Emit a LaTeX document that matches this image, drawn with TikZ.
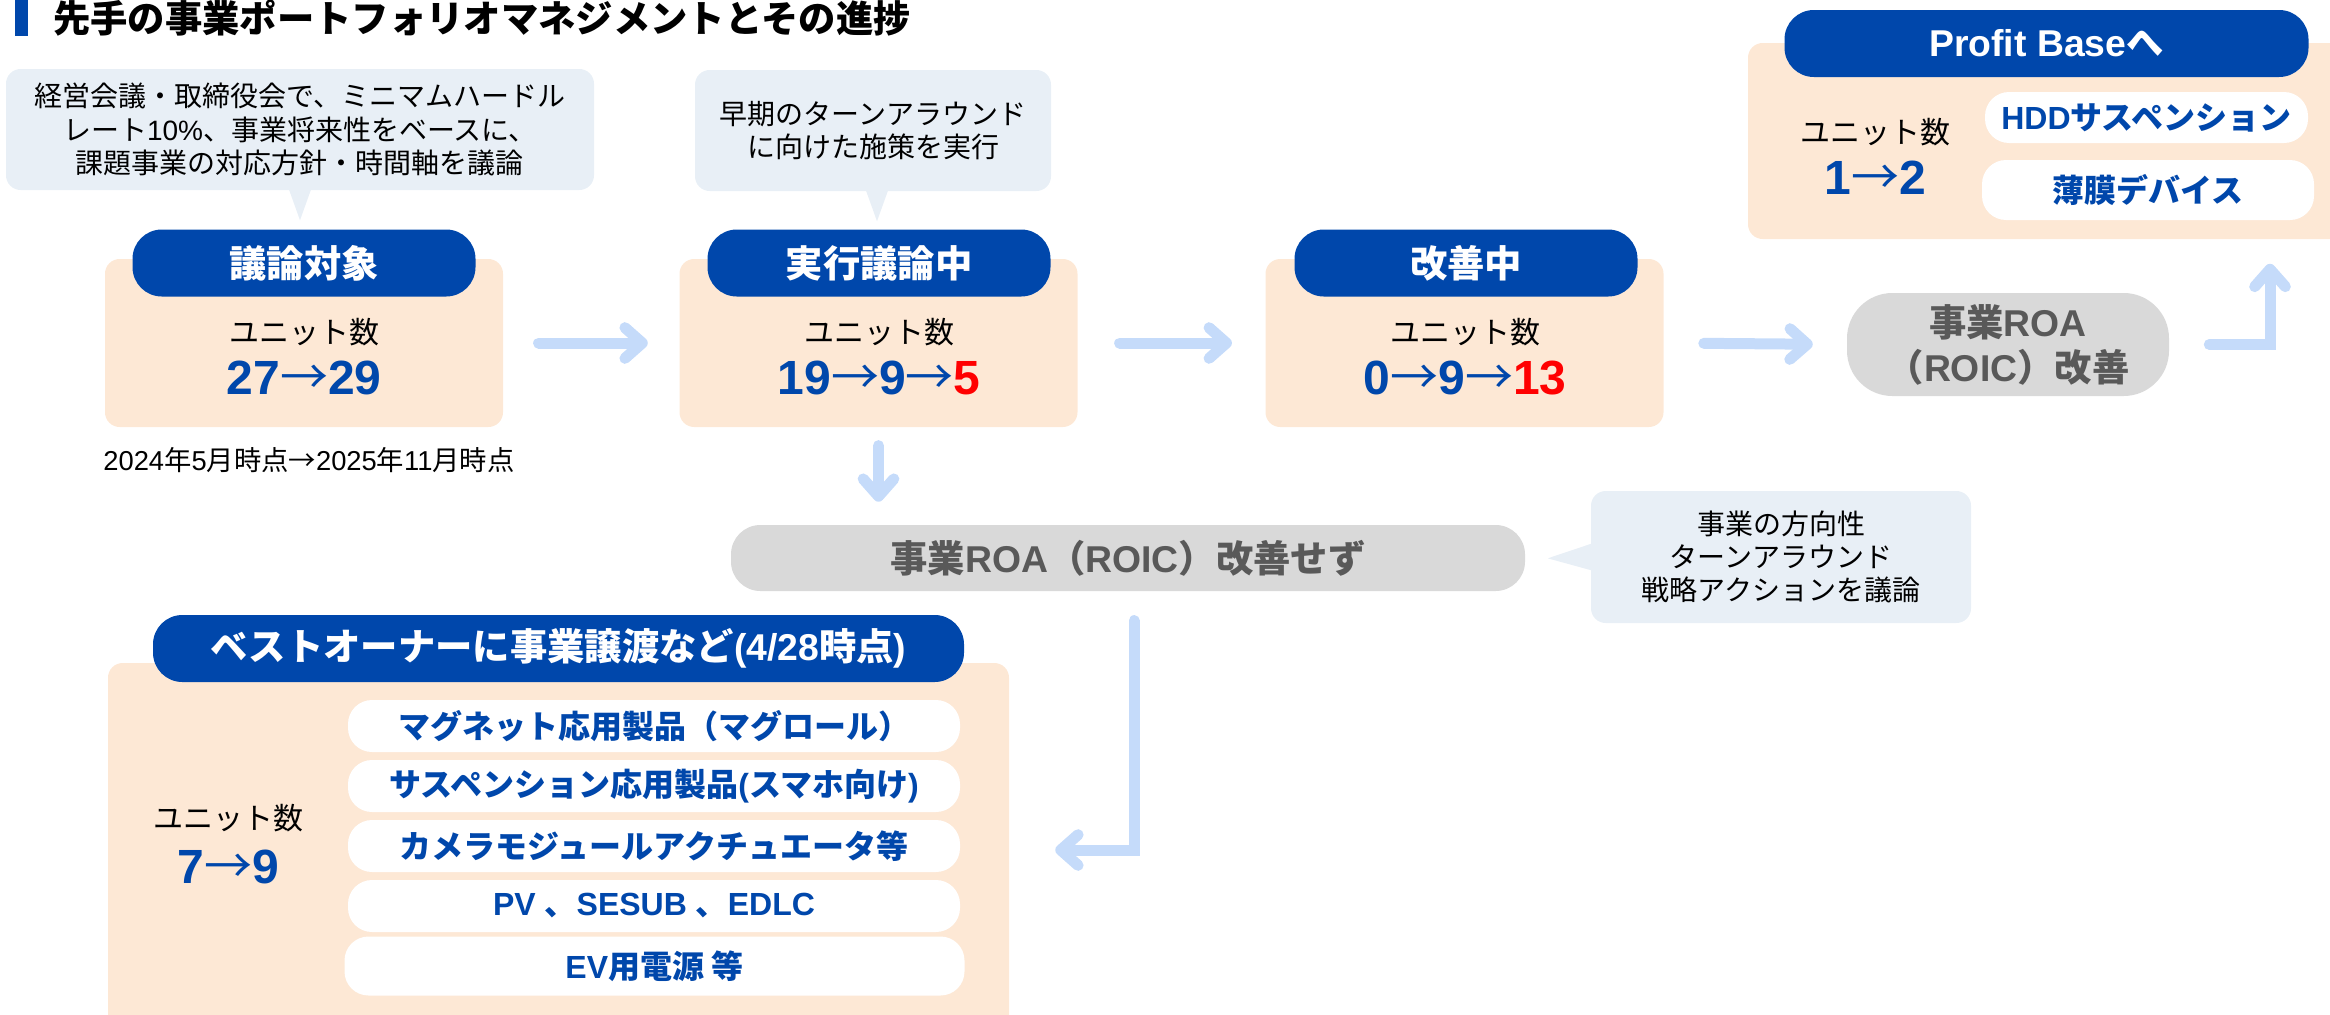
\documentclass[tikz,border=0pt]{standalone}
\usepackage{fontspec}
\setmainfont{Noto Sans CJK JP}
\newfontfamily\lat{Liberation Sans}
\newfontfamily\cjkplain{Noto Sans CJK JP}
\usetikzlibrary{arrows.meta}
\definecolor{hdblue}{RGB}{0,71,171}
\definecolor{numblue}{RGB}{0,71,171}
\definecolor{peach}{RGB}{253,232,213}
\definecolor{bubblebg}{RGB}{232,239,246}
\definecolor{pillgray}{RGB}{217,217,217}
\definecolor{graytext}{RGB}{89,89,89}
\definecolor{flowblue}{RGB}{197,219,250}
\newcommand\fs[1]{\fontsize{#1}{#1}\selectfont}
\newcommand\arr{{\cjkplain\mdseries →}}
\tikzset{
  unitbox/.style={fill=peach, rounded corners=11pt, inner sep=0pt},
  headpill/.style={fill=hdblue, rounded corners=22pt, minimum height=50.25pt, text=white, font=\bfseries\fs{28}, inner sep=0pt},
  callout/.style={fill=bubblebg, rounded corners=11pt, align=center, font=\fontsize{21}{25}\selectfont, inner sep=0pt},
  unitlabel/.style={font=\fs{22.5}, inner sep=0pt},
  unitnum/.style={font=\lat\bfseries\fs{36}, text=numblue, inner sep=0pt},
  itempill/.style={fill=white, rounded corners=18pt, minimum height=39pt, text=numblue, font=\bfseries\fs{24}, inner sep=0pt},
  roipill/.style={fill=pillgray, text=graytext, inner sep=0pt},
  flow/.style={draw=flowblue, line width=8.25pt, line cap=round, -{Straight Barb[length=13pt,width=23pt,round]}}
}
\begin{document}
\begin{tikzpicture}[x=0.75pt,y=-0.75pt]
\useasboundingbox (0,0) rectangle (2330,1014);
\clip (0,0) rectangle (2330,1014);
% title
\fill[hdblue] (15,0) rectangle (28,36);
\node[anchor=west, inner sep=0pt, font=\bfseries\fs{28}] (title) at (53,18) {先手の事業ポートフォリオマネジメントとその進捗};
% callouts
\node[callout, minimum width=441pt, minimum height=90.75pt] (call1) at (300,129.5) {経営会議・取締役会で、ミニマムハードル\\レート{\lat 10\%}、事業将来性をベースに、\\課題事業の対応方針・時間軸を議論};
\fill[bubblebg] ([xshift=-8.25pt,yshift=0.5pt]call1.south) -- ([yshift=-22.5pt]call1.south) -- ([xshift=8.25pt,yshift=0.5pt]call1.south) -- cycle;
\node[callout, minimum width=267pt, minimum height=90.75pt] (call2) at (873,130.5) {早期のターンアラウンド\\に向けた施策を実行};
\fill[bubblebg] ([xshift=-5.25pt,yshift=0.5pt]call2.south) -- ([xshift=3pt,yshift=-22.5pt]call2.south) -- ([xshift=11.25pt,yshift=0.5pt]call2.south) -- cycle;
\node[callout, minimum width=285pt, minimum height=99pt] (call3) at (1781,557) {事業の方向性\\ターンアラウンド\\戦略アクションを議論};
\fill[bubblebg] ([xshift=0.5pt,yshift=10pt]call3.west) -- ([xshift=-32.25pt,yshift=-1pt]call3.west) -- ([xshift=0.5pt,yshift=-10pt]call3.west) -- cycle;
% discussion stage
\node[unitbox, minimum width=298.5pt, minimum height=126pt] (box1) at (304,343) {};
\node[headpill, minimum width=257.25pt] (head1) at (304,263) {議論対象};
\node[unitlabel] (lab1) at (304,332) {ユニット数};
\node[unitnum] (num1) at (304,378) {27\arr 29};
\node[inner sep=0pt, font=\fs{20.5}] (date) at (309,460) {{\lat 2024}年{\lat 5}月時点→{\lat 2025}年{\lat 11}月時点};
% execution stage
\node[unitbox, minimum width=298.5pt, minimum height=126pt] (box2) at (878.5,343) {};
\node[headpill, minimum width=257.25pt] (head2) at (879,263) {実行議論中};
\node[unitlabel] (lab2) at (879,332) {ユニット数};
\node[unitnum] (num2) at (879,378) {19\arr 9\arr{\color{red}5}};
% improving stage
\node[unitbox, minimum width=298.5pt, minimum height=126pt] (box3) at (1464.5,343) {};
\node[headpill, minimum width=257.25pt] (head3) at (1466,263) {改善中};
\node[unitlabel] (lab3) at (1465,332) {ユニット数};
\node[unitnum] (num3) at (1465,378) {0\arr 9\arr{\color{red}13}};
% ROA improved
\node[roipill, rounded corners=34pt, minimum width=241.5pt, minimum height=77.25pt, align=center, font=\bfseries\fontsize{28}{33.75}\selectfont] (roia) at (2008,344.5) {事業{\lat ROA}\\（{\lat ROIC}）改善};
% profit base
\node[unitbox, minimum width=447.75pt, minimum height=147pt] (pbox) at (2046.5,141) {};
\node[headpill, minimum width=393pt] (pbhead) at (2046.5,43.5) {{\lat Profit Base}へ};
\node[unitlabel] (pblab) at (1875,132) {ユニット数};
\node[unitnum] (pbnum) at (1875,178) {1\arr 2};
\node[itempill, minimum width=242.25pt, minimum height=38.25pt] (hdd) at (2146.5,117.5) {{\lat HDD}サスペンション};
\node[itempill, minimum width=249pt, minimum height=45pt] (thin) at (2148,190) {薄膜デバイス};
% ROA not improved
\node[roipill, rounded corners=22pt, minimum width=595.5pt, minimum height=49.5pt, font=\bfseries\fs{28}] (noroi) at (1128,558) {事業{\lat ROA}（{\lat ROIC}）改善せず};
% transfer to best owner
\node[unitbox, minimum width=675.75pt, minimum height=275.25pt] (bbox) at (558.5,846.5) {};
\node[headpill, minimum width=608.25pt] (bbhead) at (558.5,648.5) {ベストオーナーに事業譲渡など{\lat (4/28}時点{\lat )}};
\node[unitlabel] (bblab) at (228,818) {ユニット数};
\node[unitnum] (bbnum) at (228,867) {7\arr 9};
\node[itempill, minimum width=459pt] (item1) at (654,726) {マグネット応用製品（マグロール）};
\node[itempill, minimum width=459pt] (item2) at (654,786) {サスペンション応用製品{\lat (}スマホ向け{\lat )}};
\node[itempill, minimum width=459pt] (item3) at (654,846) {カメラモジュールアクチュエータ等};
\node[itempill, minimum width=459pt] (item4) at (654,906) {{\lat PV }、{\lat SESUB }、{\lat EDLC}};
\node[itempill, minimum width=465pt, minimum height=44.25pt] (item5) at (654.5,966) {{\lat EV}用電源 等};
% flows
\draw[flow, shorten <=26.5pt, shorten >=23.6pt] (box1.east) -- (box2.west);
\draw[flow, shorten <=31.4pt, shorten >=25pt] (box2.east) -- (box3.west);
\draw[flow, shorten <=30pt, shorten >=25.5pt] (box3.east) -- (roia.west);
\coordinate (pbturn) at (2270,344.5);
\draw[flow, shorten <=30pt, shorten >=18.4pt] (roia.east) -- (pbturn) -- (pbturn |- pbox.south);
\draw[flow, shorten <=13.75pt, shorten >=17.25pt] (box2.south) -- (box2.south |- noroi.north);
\coordinate (sellturn) at (1134,850);
\draw[flow, shorten <=22pt, shorten >=34.5pt] (noroi.south -| sellturn) -- (sellturn) -- (sellturn -| bbox.east);
\end{tikzpicture}
\end{document}
